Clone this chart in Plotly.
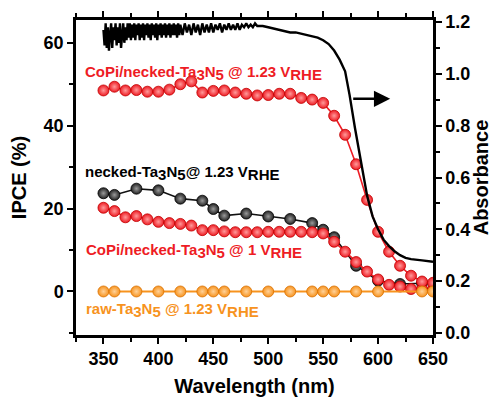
import plotly.graph_objects as go

# ---------------- data ----------------
wl_copi123 = [350, 360, 370, 380, 390, 400, 410, 420, 430, 440, 450, 460, 470, 480, 490,
              500, 510, 520, 530, 540, 550, 560, 570, 580, 590, 600, 610, 620, 630, 640, 650]
ipce_copi123 = [48.5, 49.4, 48.5, 48.6, 48.2, 48.2, 48.7, 50.0, 50.7, 48.0, 48.4, 48.5, 48.0, 47.7, 47.3,
                47.4, 47.7, 47.7, 46.7, 46.3, 45.5, 42.4, 37.8, 30.7, 22.1, 14.4, 9.6, 6.2, 3.8, 2.4, 2.1]

wl_copi1 = [350, 360, 370, 380, 390, 400, 410, 420, 430, 440, 450, 460, 470, 480, 490,
            500, 510, 520, 530, 540, 550, 560, 570, 580, 590, 600, 610, 620, 630, 640, 650]
ipce_copi1 = [20.2, 19.4, 17.9, 18.2, 17.4, 16.8, 16.5, 16.3, 15.9, 14.8, 14.8, 14.5, 14.3, 14.3, 14.3,
              14.4, 14.4, 14.4, 14.4, 14.3, 14.0, 12.0, 9.6, 7.1, 4.8, 2.9, 1.6, 1.2, 0.6, 0.6, 0.5]

wl_necked = [350, 360, 380, 400, 420, 440, 450, 460, 480, 500, 520, 540, 550, 560, 580, 600, 620, 640]
ipce_necked = [23.7, 23.3, 24.8, 24.4, 22.4, 21.9, 19.9, 18.3, 18.8, 18.1, 17.5, 16.5, 14.9, 13.1,
               6.2, 2.6, 1.8, 2.0]

wl_raw = [350, 360, 380, 400, 420, 440, 450, 460, 480, 500, 520, 540, 550, 560, 580, 600, 640, 650]
ipce_raw = [0, 0, 0, 0, 0, 0, 0, 0, 0, 0, 0, 0, 0, 0, 0, 0, 0, 0]

wl_abs = (list(range(350, 421)) + list(range(422, 491, 2)) +
          [495, 500, 505, 510, 515, 520, 525, 530, 535, 540, 545, 550, 555, 560, 565, 570,
           574, 579, 585, 590, 595, 600, 605, 610, 615, 620, 625, 630, 640, 650])
absorb = ([1.17, 1.11, 1.195, 1.10, 1.18, 1.09, 1.15, 1.195, 1.10, 1.18, 1.13, 1.195, 1.11, 1.18, 1.12,
           1.195, 1.10, 1.17, 1.195, 1.12, 1.18, 1.13, 1.195] +
          [1.14, 1.195, 1.13, 1.19, 1.14, 1.195, 1.13, 1.19, 1.15, 1.195, 1.13, 1.19, 1.14, 1.195, 1.13, 1.19,
           1.15, 1.195, 1.14, 1.19, 1.13, 1.195, 1.15, 1.19, 1.14, 1.195, 1.13, 1.19, 1.15, 1.195, 1.14, 1.19,
           1.15, 1.195, 1.14, 1.19, 1.15, 1.195, 1.14, 1.19, 1.15, 1.195, 1.15, 1.19, 1.14, 1.195, 1.15, 1.19] +
          [1.15, 1.195, 1.16, 1.19, 1.15, 1.195, 1.16, 1.19, 1.15, 1.195, 1.16, 1.19, 1.16, 1.195, 1.16, 1.19,
           1.17, 1.195, 1.16, 1.19, 1.17, 1.195, 1.17, 1.19, 1.17, 1.195, 1.17, 1.19, 1.18, 1.195, 1.18, 1.19,
           1.18, 1.195, 1.185] +
          [1.185, 1.18, 1.175, 1.17, 1.165, 1.16, 1.16, 1.155, 1.15, 1.145, 1.14, 1.13, 1.115, 1.09, 1.055,
           1.01, 0.92, 0.79, 0.65, 0.53, 0.45, 0.40, 0.36, 0.335, 0.315, 0.30, 0.29, 0.285, 0.28, 0.275])

x_ticks = [350, 400, 450, 500, 550, 600, 650]
y_ticks = [0, 20, 40, 60]
y2_ticks = [0.0, 0.2, 0.4, 0.6, 0.8, 1.0, 1.2]
y2_labels = ["0.0", "0.2", "0.4", "0.6", "0.8", "1.0", "1.2"]

# ---------------- style ----------------
RED = "#ee1c24"
ORANGE = "#f7931e"
BLACK = "#111111"
FONT = "Liberation Sans"

fig = go.Figure()

fig.add_trace(go.Scatter(x=wl_abs, y=absorb, yaxis="y2", mode="lines",
                         line=dict(color="black", width=2.4), showlegend=False))


def ball(color, light, edge):
    return dict(size=11, color=color, line=dict(color=edge, width=0.8),
                gradient=dict(type="radial", color=light))


fig.add_trace(go.Scatter(x=wl_necked, y=ipce_necked, mode="lines+markers",
                         line=dict(color=BLACK, width=1.6),
                         marker=ball("#222222", "#9a9a9a", "#000000"), showlegend=False))
fig.add_trace(go.Scatter(x=wl_copi1, y=ipce_copi1, mode="lines+markers",
                         line=dict(color=RED, width=1.6),
                         marker=ball(RED, "#ff9a9a", "#c00000"), showlegend=False))
fig.add_trace(go.Scatter(x=wl_copi123, y=ipce_copi123, mode="lines+markers",
                         line=dict(color=RED, width=1.6),
                         marker=ball(RED, "#ff9a9a", "#c00000"), showlegend=False))
fig.add_trace(go.Scatter(x=wl_raw, y=ipce_raw, mode="lines+markers",
                         line=dict(color=ORANGE, width=1.8),
                         marker=ball(ORANGE, "#ffd29a", "#d87000"), showlegend=False))

S = '<span style="font-size:15px">'


def sub(t):
    return "<sub>" + S + t + "</span></sub>"


ann_font = dict(family=FONT, size=15, weight="bold")
annotations = [
    dict(x=331.5, y=52.6, text="CoPi/necked-Ta" + sub("3") + "N" + sub("5") + " @ 1.23 V" + sub("RHE"),
         font=dict(color=RED, **ann_font)),
    dict(x=331.5, y=28.6, text="necked-Ta" + sub("3") + "N" + sub("5") + "@ 1.23 V" + sub("RHE"),
         font=dict(color="black", **ann_font)),
    dict(x=332.5, y=9.8, text="CoPi/necked-Ta" + sub("3") + "N" + sub("5") + " @ 1 V" + sub("RHE"),
         font=dict(color=RED, **ann_font)),
    dict(x=332.5, y=-4.5, text="raw-Ta" + sub("3") + "N" + sub("5") + " @ 1.23 V" + sub("RHE"),
         font=dict(color=ORANGE, **ann_font)),
]
for a in annotations:
    a.update(xref="x", yref="y", xanchor="left", yanchor="middle", showarrow=False)
annotations.append(dict(x=611, y=46.5, ax=576, ay=46.5, xref="x", yref="y", axref="x", ayref="y",
                        showarrow=True, arrowhead=2, arrowsize=1.3, arrowwidth=2.5,
                        arrowcolor="black", text=""))

axis_common = dict(showline=True, linecolor="black", linewidth=2.5, ticks="outside",
                   tickwidth=2, ticklen=6, tickcolor="black", showgrid=False, zeroline=False,
                   tickfont=dict(family=FONT, size=18, color="black", weight="bold"),
                   title_font=dict(family=FONT, size=20, color="black", weight="bold"))

# the page body adds an 8 px offset at top/left, so the figure is 8 px smaller
fig.update_layout(
    width=493, height=389,
    margin=dict(l=68, r=68, t=12, b=62, autoexpand=False),
    paper_bgcolor="white", plot_bgcolor="white",
    annotations=annotations,
    xaxis=dict(range=[325, 650], tickvals=x_ticks, mirror="ticks",
               minor=dict(dtick=25, tick0=325, ticks="outside", ticklen=4, tickwidth=2, tickcolor="black"),
               title=dict(text="Wavelength (nm)", standoff=14), **axis_common),
    yaxis=dict(range=[-10.5, 65.5], tickvals=y_ticks,
               minor=dict(dtick=10, tick0=0, ticks="outside", ticklen=4, tickwidth=2, tickcolor="black"),
               title=dict(text="IPCE (%)", standoff=14), **axis_common),
    yaxis2=dict(range=[-0.008, 1.208], tickvals=y2_ticks, ticktext=y2_labels, overlaying="y", side="right",
                minor=dict(dtick=0.1, tick0=0, ticks="outside", ticklen=4, tickwidth=2, tickcolor="black"),
                title=dict(text="Absorbance", standoff=4), **axis_common),
)

fig.write_html("out.html")
